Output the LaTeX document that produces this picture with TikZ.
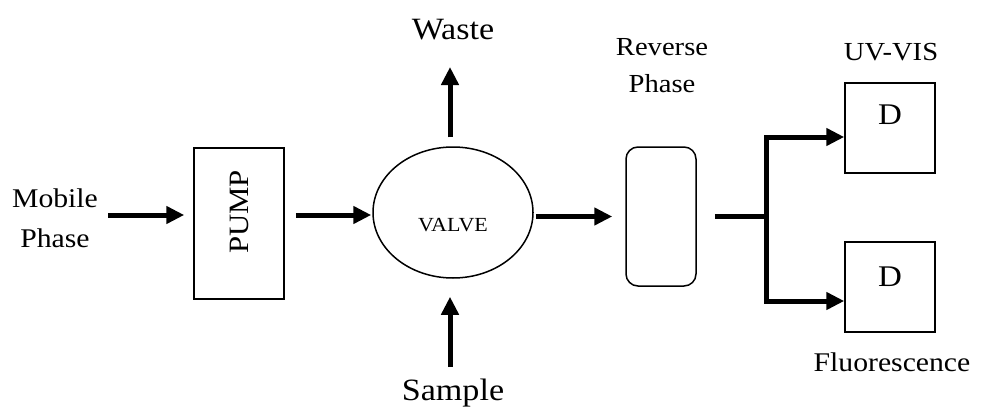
\documentclass[tikz,border=0pt]{standalone}
\usepackage{fontspec}
\setmainfont[FakeStretch=1.1]{Liberation Serif}
\usetikzlibrary{arrows.meta,shapes.geometric}
\tikzset{
  box/.style={draw,line width=1.5pt,inner sep=0pt},
  lbl/.style={inner sep=0pt,align=center,font=\fontsize{27}{40}\selectfont},
  flow/.style={line width=5pt,-{Triangle[length=18pt,width=17pt]}},
  bar/.style={line width=5pt},
}
\begin{document}
\begin{tikzpicture}[x=1pt,y=-1pt]
\useasboundingbox (0,0) rectangle (982,420);
% labels
\node[lbl] (mobile) at (55,218) {Mobile\\Phase};
\node[lbl,font=\fontsize{31}{36}\selectfont] (waste) at (453,30) {Waste};
\node[lbl,font=\fontsize{31}{36}\selectfont] (sample) at (453,393) {Sample};
\node[lbl,font=\fontsize{26}{37}\selectfont] (rp) at (662,66) {Reverse\\Phase};
\node[lbl,font=\fontsize{26}{37}\selectfont] (uv) at (891,52) {UV-VIS};
\node[lbl] (fl) at (892,362) {Fluorescence};
% components
\node[box,minimum width=90pt,minimum height=151pt] (pump) at (239,223.5) {};
\node[rotate=90,font=\fontsize{28}{36}\selectfont,inner sep=0pt] (pumptxt) at (239,212) {PUMP};
\node[box,ellipse,minimum width=160pt,minimum height=131pt] (valve) at (453,212.5) {};
\node[font=\fontsize{20}{25}\selectfont,inner sep=0pt] (valvetxt) at (453,225) {VALVE};
\node[box,rounded corners=12pt,minimum width=70pt,minimum height=139pt] (col) at (661,216.5) {};
\node[box,minimum width=90pt,minimum height=90pt] (d1) at (890,128) {};
\node[font=\fontsize{30}{36}\selectfont,inner sep=0pt] (d1t) at (890,115) {D};
\node[box,minimum width=90pt,minimum height=90pt] (d2) at (890,287) {};
\node[font=\fontsize{30}{36}\selectfont,inner sep=0pt] (d2t) at (890,277) {D};
\coordinate (j) at (766,216.5);
% connectors
\draw[flow] (108,215) coordinate (m0) -- ([xshift=-9pt]pump.west |- m0);
\draw[flow] ([xshift=11pt]pump.east |- m0) -- ([xshift=-1pt]valve.west |- m0);
\draw[flow] ([yshift=9pt]valve.north -| 450,0) -- (450,67);
\draw[flow] (450,367) -- ([yshift=-18pt]valve.south -| 450,0);
\draw[flow] ([xshift=2pt]valve.east |- j) -- ([xshift=-13pt]col.west |- j);
\draw[bar] ([xshift=18pt]col.east |- j) -- (j);
\draw[line width=5pt,line join=miter,{Triangle[length=18pt,width=17pt]}-{Triangle[length=18pt,width=17pt]}]
  ([yshift=-9pt]d1.west) -| (j) |- ([yshift=-14pt]d2.west);
\end{tikzpicture}
\end{document}
